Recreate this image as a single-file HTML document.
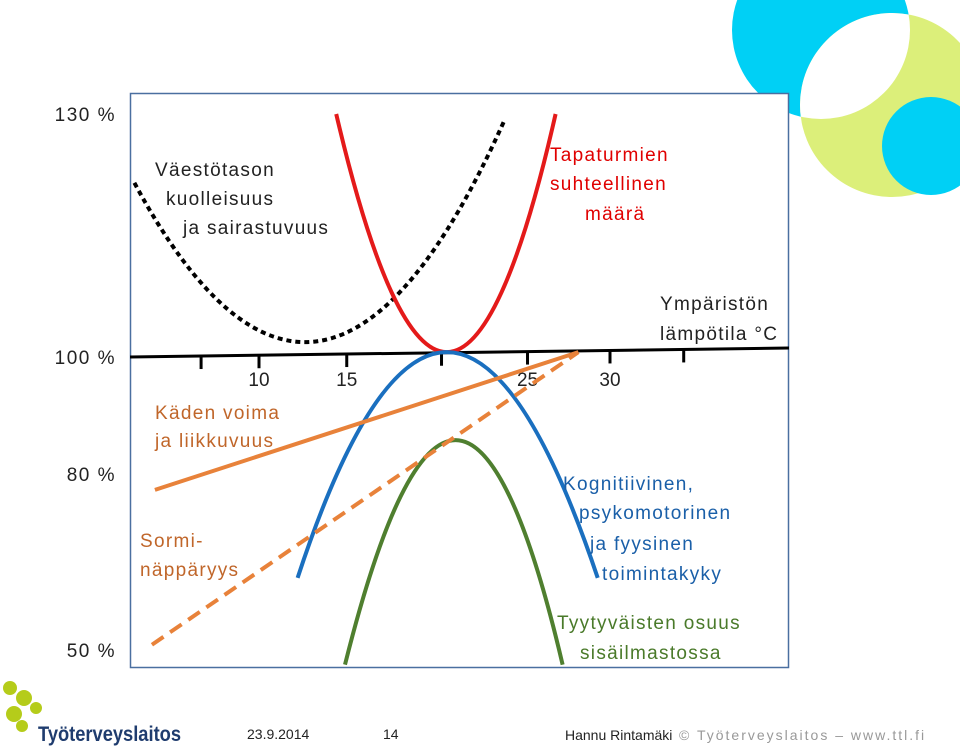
<!DOCTYPE html>
<html><head><meta charset="utf-8">
<style>
html,body{margin:0;padding:0;background:#fff;}
svg{display:block;font-family:"Liberation Sans",sans-serif;}
</style></head>
<body>
<svg id="chart" width="960" height="746" viewBox="0 0 960 746">
  <defs>
    <clipPath id="cyanClip"><circle cx="821" cy="30" r="89"/></clipPath>
  </defs>
  <g>
    <circle cx="821" cy="30" r="89" fill="#00d0f5"/>
    <circle cx="892" cy="105" r="92" fill="#dcef7a"/>
    <circle cx="892" cy="105" r="92" fill="#fff" clip-path="url(#cyanClip)"/>
    <circle cx="931" cy="146" r="49" fill="#00d0f5"/>
  </g>
  <rect x="130.5" y="93.5" width="658" height="574" fill="#fff" stroke="#4a6fa0" stroke-width="1.5"/>
  <g id="yticks"></g>
  <g id="xaxis"></g>
  <g id="series"></g>
  <g font-size="19" letter-spacing="1.3">
    <text x="155" y="176" fill="#222">Väestötason</text>
    <text x="166" y="205" fill="#222">kuolleisuus</text>
    <text x="183" y="234" fill="#222">ja sairastuvuus</text>
    <text x="550" y="161" fill="#e00000">Tapaturmien</text>
    <text x="550" y="190" fill="#e00000">suhteellinen</text>
    <text x="585" y="220" fill="#e00000">määrä</text>
    <text x="660" y="310" fill="#222">Ympäristön</text>
    <text x="660" y="340" fill="#222">lämpötila °C</text>
    <text x="155" y="419" fill="#c0662a">Käden voima</text>
    <text x="155" y="447" fill="#c0662a">ja liikkuvuus</text>
    <text x="140" y="547" fill="#c0662a">Sormi-</text>
    <text x="140" y="576" fill="#c0662a">näppäryys</text>
    <text x="563" y="490" fill="#1a5fa8">Kognitiivinen,</text>
    <text x="579" y="519" fill="#1a5fa8">psykomotorinen</text>
    <text x="590" y="550" fill="#1a5fa8">ja fyysinen</text>
    <text x="602" y="580" fill="#1a5fa8">toimintakyky</text>
    <text x="557" y="629" fill="#4a7a2a">Tyytyväisten osuus</text>
    <text x="580" y="659" fill="#4a7a2a">sisäilmastossa</text>
  </g>
  <g>
    <g fill="#b5cc1a">
      <circle cx="10" cy="688" r="7"/>
      <circle cx="24" cy="698" r="8"/>
      <circle cx="36" cy="708" r="6"/>
      <circle cx="14" cy="714" r="8"/>
      <circle cx="22" cy="726" r="6"/>
    </g>
    <text x="38" y="741" font-size="21" font-weight="bold" fill="#1f3c6e" textLength="143" lengthAdjust="spacingAndGlyphs">Työterveyslaitos</text>
    <text x="247" y="739" font-size="14" fill="#222">23.9.2014</text>
    <text x="383" y="739" font-size="14" fill="#222">14</text>
    <text x="565" y="740" font-size="14" fill="#222">Hannu Rintamäki</text>
    <text x="679" y="740" font-size="14" fill="#999" letter-spacing="2">© Työterveyslaitos  –  www.ttl.fi</text>
  </g>
</svg>
<script>
const yTickLabels = ["130 %", "100 %", "80 %", "50 %"];
const yTickValues = [130, 100, 80, 50];
const xTickLabels = ["", "10", "15", "", "25", "30", ""];
const xTickValues = [6.7, 10, 15, 20.4, 25.3, 30, 34.2];

// each curve: [left end, vertex, right end]
const mortT = [2.9, 13.5, 24.0];
const mortY = [121.5, 102, 129.3];
const accT = [14.4, 20.7, 26.9];
const accY = [130, 100.6, 130];
const cogT = [12.2, 20.7, 29.3];
const cogY = [62.3, 100.6, 62.3];
const satT = [14.9, 21.2, 27.3];
const satY = [47.5, 85.8, 47.5];
const gripT = [4.07, 28.2];
const gripY = [77.3, 100.6];
const dexT = [3.9, 28.2];
const dexY = [50.9, 100.6];

const yDom = [50, 80, 100, 130], yRng = [650, 474, 357, 114];
function yScale(v) {
  let i = v < 80 ? 0 : (v < 100 ? 1 : 2);
  return yRng[i] + (v - yDom[i]) * (yRng[i+1] - yRng[i]) / (yDom[i+1] - yDom[i]);
}
function xScale(t) { return 259 + (t - 10) * 17.55; }
function axisY(px) { return 357 - (px - 130) * 9 / 659; }

const NS = "http://www.w3.org/2000/svg";
function mk(tag, attrs, parent) {
  const e = document.createElementNS(NS, tag);
  for (const k in attrs) e.setAttribute(k, attrs[k]);
  parent.appendChild(e); return e;
}
const yg = document.getElementById("yticks");
yTickValues.forEach((v, i) => {
  const t = mk("text", {x: 116, y: yScale(v) + 7, "text-anchor": "end", "font-size": 19, fill: "#222", "letter-spacing": 1.5}, yg);
  t.textContent = yTickLabels[i];
  
  
});
const xg = document.getElementById("xaxis");
const axl = mk("line", {x1: 130, y1: axisY(130), x2: 789, y2: axisY(789), stroke: "#000", "stroke-width": 3}, xg);


xTickValues.forEach((v, i) => {
  const px = xScale(v), ay = axisY(px);
  const tk = mk("line", {x1: px, y1: ay, x2: px, y2: ay + 13, stroke: "#000", "stroke-width": 3}, xg);
  
  
  if (xTickLabels[i]) {
    const t = mk("text", {x: px, y: 386, "text-anchor": "middle", "font-size": 19, fill: "#222"}, xg);
    t.textContent = xTickLabels[i];
    
    
  }
});

function curvePath(ts, ys) {
  const p = ts.map((t, i) => [xScale(t), yScale(ys[i])]);
  if (p.length === 2) return `M${p[0][0]},${p[0][1]}L${p[1][0]},${p[1][1]}`;
  const L = p[0], V = p[1], R = p[2];
  const c = [2*V[0] - (L[0]+R[0])/2, 2*V[1] - (L[1]+R[1])/2];
  return `M${L[0]},${L[1]}Q${c[0]},${c[1]} ${R[0]},${R[1]}`;
}
const sg = document.getElementById("series");
const defs = [
  [mortT, mortY, "#000", "5 4", 4, "series-mortality"],
  [accT, accY, "#e41a1a", "", 4, "series-accidents"],
  [cogT, cogY, "#1a6fbf", "", 4, "series-cognitive"],
  [satT, satY, "#4f7f2f", "", 4, "series-satisfaction"],
  [gripT, gripY, "#e8823a", "", 4, "series-grip"],
  [dexT, dexY, "#e8823a", "14 8", 4, "series-dexterity"]
];
defs.forEach(s => {
  const a = {d: curvePath(s[0], s[1]), fill: "none", stroke: s[2], "stroke-width": s[4]};
  if (s[3]) a["stroke-dasharray"] = s[3];
  const el = mk("path", a, sg);
  
  
});
</script>
</body></html>
